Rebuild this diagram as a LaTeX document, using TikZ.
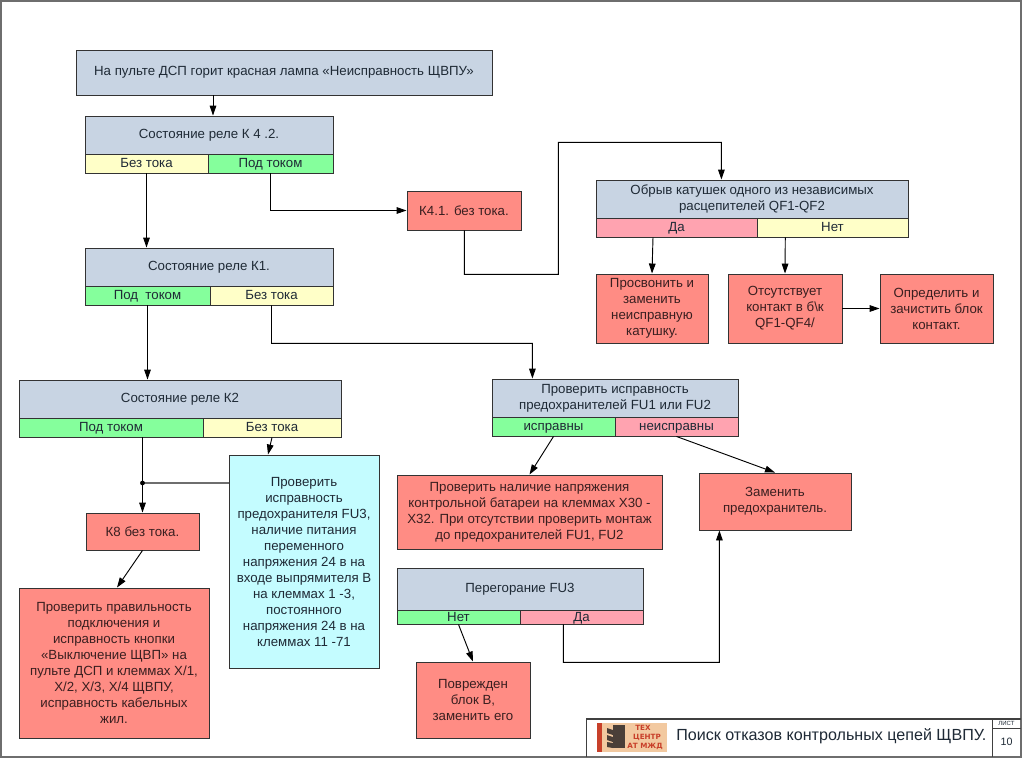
\documentclass[tikz,border=0pt]{standalone}
\usepackage{fontspec}
\setmainfont{Liberation Sans}
\newfontfamily\logofont{DejaVu Sans}
\usetikzlibrary{calc,arrows.meta}
\definecolor{bluegray}{HTML}{C8D4E3}
\definecolor{yel}{HTML}{FFFFC8}
\definecolor{grn}{HTML}{85FF9C}
\definecolor{pnk}{HTML}{FFA3B0}
\definecolor{redb}{HTML}{FF8C84}
\definecolor{cyanb}{HTML}{C4FCFF}
\definecolor{txt}{HTML}{1F2A36}
\definecolor{txtred}{HTML}{3A1F20}
\definecolor{frame}{HTML}{6E6E6E}
\definecolor{logobg}{HTML}{F2C9A0}
\definecolor{logored}{HTML}{C8402A}
\definecolor{logodark}{HTML}{4A3F38}
\tikzset{
 base/.style={draw=black!80,line width=0.7pt,inner sep=0pt,align=center,text=txt,font=\fontsize{9.95}{12}\selectfont},
 cell/.style={base,text height=8pt,text depth=2pt},
 blue/.style={base,fill=bluegray},
 yl/.style={cell,fill=yel},
 gr/.style={cell,fill=grn},
 pk/.style={cell,fill=pnk},
 rd/.style={base,fill=redb,text=txtred},
 cy/.style={base,fill=cyanb},
 arr/.style={draw=black,line width=0.7pt,-{Triangle[length=7.5pt,width=5pt]}},
 grayline/.style={draw=frame,line width=1.2pt},
 logotext/.style={font=\logofont\bfseries\fontsize{5.4}{6}\selectfont,text=logored,inner sep=0pt},
}
\newcommand{\bx}[7]{\node[#6,minimum width=(#4-#2)*0.75pt,minimum height=(#5-#3)*0.75pt] (#1) at ({(#2+#4)/2},{(#3+#5)/2}) {#7};}
\begin{document}
\begin{tikzpicture}[x=0.75pt,y=-0.75pt]
\useasboundingbox (0,0) rectangle (1022,758);
\fill[white] (0,0) rectangle (1022,758);
\draw[frame,line width=1.5pt] (1,1) rectangle (1020.5,757);
\bx{top}{76}{50}{492}{95}{blue}{На пульте ДСП горит красная лампа «Неисправность ЩВПУ»}
\bx{kA}{85}{116}{333}{154}{blue}{Состояние реле К 4 .2.}
\bx{kAy}{85}{154}{208}{173}{yl}{Без тока}
\bx{kAg}{208}{154}{333}{173}{gr}{Под током}
\bx{kB}{407}{191}{521}{230}{rd}{К4.1. без тока.}
\bx{ob}{596}{180}{908}{218}{blue}{Обрыв катушек одного из независимых\\расцепителей QF1-QF2}
\bx{oby}{596}{218}{757}{237}{pk}{Да}
\bx{obn}{757}{218}{908}{237}{yl}{Нет}
\bx{pr}{596}{274}{708}{343}{rd}{Просвонить и\\заменить\\неисправную\\катушку.}
\bx{ot}{728}{274}{842}{343}{rd}{Отсутствует\\контакт в б\textbackslash к\\QF1-QF4/}
\bx{op}{880}{274}{993}{343}{rd}{Определить и\\зачистить блок\\контакт.}
\bx{kC}{85}{248}{333}{286}{blue}{Состояние реле К1.}
\bx{kCg}{85}{286}{210}{305}{gr}{Под\ \ током}
\bx{kCy}{210}{286}{333}{305}{yl}{Без тока}
\bx{kD}{19}{380}{341}{418}{blue}{Состояние реле К2}
\bx{kDg}{19}{418}{203}{437}{gr}{Под током}
\bx{kDy}{203}{418}{341}{437}{yl}{Без тока}
\bx{fu}{492}{379}{738}{417}{blue}{Проверить исправность\\предохранителей FU1 или FU2}
\bx{fug}{492}{417}{615}{436}{gr}{исправны}
\bx{fup}{615}{417}{738}{436}{pk}{неисправны}
\bx{chk}{229}{455}{379}{668}{cy}{Проверить\\исправность\\предохранителя FU3,\\наличие питания\\переменного\\напряжения 24 в на\\входе выпрямителя В\\на клеммах 1 -3,\\постоянного\\напряжения 24 в на\\клеммах 11 -71}
\bx{keight}{86}{513}{199}{550}{rd}{К8 без тока.}
\bx{prov}{19}{588}{209}{738}{rd}{Проверить правильность\\подключения и\\исправность кнопки\\«Выключение ЩВП» на\\пульте ДСП и клеммах Х/1,\\Х/2, Х/3, Х/4 ЩВПУ,\\исправность кабельных\\жил.}
\bx{nap}{397}{475}{662}{549}{rd}{Проверить наличие напряжения\\контрольной батареи на клеммах Х30 -\\Х32. При отсутствии проверить монтаж\\до предохранителей FU1, FU2}
\bx{zam}{699}{473}{851}{530}{rd}{Заменить\\предохранитель.}
\bx{fth}{397}{568}{643}{610}{blue}{Перегорание FU3}
\bx{fthg}{397}{610}{520}{624}{gr}{Нет}
\bx{fthp}{520}{610}{643}{624}{pk}{Да}
\bx{pov}{416}{662}{530}{738}{rd}{Поврежден\\блок В,\\заменить его}
% connectors
\draw[arr] ($(top.south)+(-71,0)$) -- ($(kA.north)+(4,0)$);
\draw[arr] (kAy.south) -- (kC.north -| kAy.south);
\draw[arr] (kAg.south) |- (kB.west);
\draw[arr] ($(kB.south)+(0.4,0)$) |- (558.4,274.4) |- (721.4,142.4) -- ($(ob.north)+(-30.6,0)$);
\draw[arr] ($(oby.south)+(-23.5,0)$) -- (pr.north);
\draw[arr] ($(obn.south)+(-47.2,0)$) -- (ot.north);
\draw[arr] (ot.east) -- (op.west);
\draw[arr] (kCg.south) -- (kD.north -| kCg.south);
\draw[arr] (kCy.south) |- (532.4,343.4) -- ($(fu.north)+(-82.6,0)$);
\draw[arr] (kDg.south -| keight.north) -- (keight.north);
\coordinate (jn) at (keight.north |- 0,483);
\draw[grayline] (jn) -- (chk.west |- jn);
\fill[black] (jn) circle (1.8pt);
\draw[arr] (kDy.south) -- ($(chk.north)+(-36,0)$);
\draw[arr] (keight.south) -- ($(prov.north)+(3,0)$);
\draw[arr] (fug.south) -- (nap.north);
\draw[arr] (fup.south) -- (zam.north);
\draw[arr] (fthg.south) -- (pov.north);
\draw[arr] ($(fthp.south)+(-18.1,0)$) |- (719.4,662.4) -- ($(zam.south)+(-55.6,0)$);
% title block
\draw[black!75,line width=0.9pt] (586.5,757) -- (586.5,719) -- (1020.5,719);
\draw[black!75,line width=0.9pt] (992.5,719) -- (992.5,757);
\draw[black!75,line width=0.7pt] (992.5,728.5) -- (1020.5,728.5);
\node[font=\fontsize{4.5}{5}\selectfont,text=txt,inner sep=0pt] (sheet) at (1006.5,723.5) {ЛИСТ};
\node[font=\fontsize{8}{9}\selectfont,text=txt,inner sep=0pt] (num) at (1006.5,742) {10};
\node[font=\fontsize{12.07}{14}\selectfont,text=txt,inner sep=0pt,anchor=west] (ttl) at (676,736) {Поиск отказов контрольных цепей ЩВПУ.};
% logo
\fill[logobg] (597,723) rectangle (667,751.5);
\fill[logored] (597,723) rectangle (602,751.5);
\fill[logodark] (613,725) rectangle (625,748);
\fill[logodark] (607,728) -- (613,730) -- (613,735) -- (607,733) -- cycle;
\fill[logodark] (607,735) -- (613,737) -- (613,742) -- (607,740) -- cycle;
\fill[logodark] (607,742) -- (613,743) -- (613,748) -- (607,747) -- cycle;
\node[logotext] (lA) at (643,728) {ТЕХ};
\node[logotext] (lB) at (647,737) {ЦЕНТР};
\node[logotext] (lC) at (645,746) {АТ МЖД};
\end{tikzpicture}
\end{document}
